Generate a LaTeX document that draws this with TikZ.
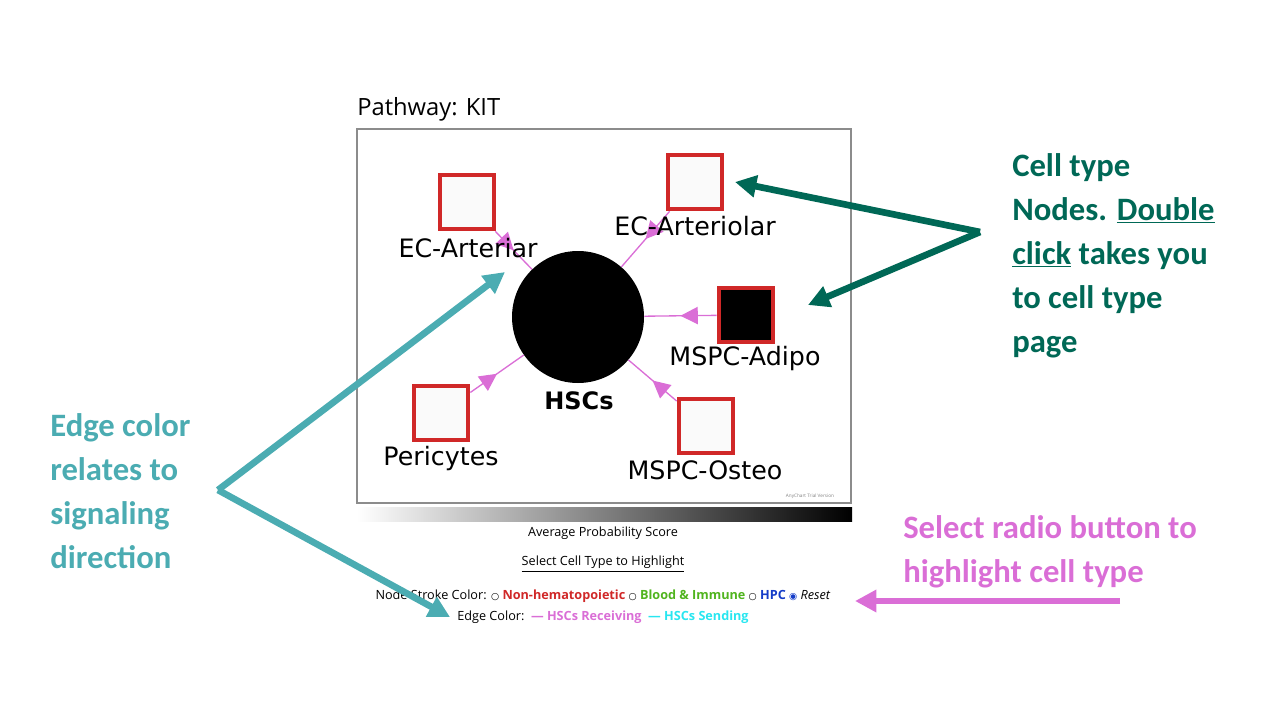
\documentclass[tikz,border=0pt]{standalone}
\usepackage{fontspec}
\setmainfont{Open Sans}
\newfontfamily\carlfont{Carlito}
\newfontfamily\djfont{DejaVu Sans}
\usetikzlibrary{arrows.meta,decorations.markings}
\definecolor{ngreen}{RGB}{0,104,86}
\definecolor{nteal}{RGB}{75,172,178}
\definecolor{npink}{RGB}{218,110,214}
\definecolor{nred}{RGB}{208,40,40}
\definecolor{edgep}{RGB}{218,110,214}
\definecolor{lgreen}{RGB}{80,180,30}
\definecolor{lblue}{RGB}{20,60,200}
\definecolor{lcyan}{RGB}{40,230,240}
\tikzset{
 cell/.style={draw=nred,line width=3pt,fill=black!2,minimum size=41pt,inner sep=0pt},
 lab/.style={font=\djfont\fontsize{19}{21}\selectfont,inner sep=0pt},
 edg/.style={draw=edgep,line width=1pt,decoration={markings,mark=at position 0.5 with {\arrow{Triangle[width=13pt,length=13pt]}}},postaction={decorate}},
 big/.style={line width=5pt,-{Triangle[width=16pt,length=16pt]}},
 ann/.style={font=\carlfont\bfseries\fontsize{24.5}{33}\selectfont,align=left,anchor=north west,inner sep=0pt},
 small/.style={font=\fontsize{9.5}{11}\selectfont,inner sep=0pt}
}
\begin{document}
\begin{tikzpicture}[x=0.75pt,y=-0.75pt]
\useasboundingbox (0,0) rectangle (1280,720);
\node[anchor=south west,font=\fontsize{17.8}{19}\selectfont,inner sep=0pt] (title) at (357,121) {Pathway: KIT};
\draw[black!45,line width=0.8pt] (357,129) rectangle (851,503);
\node[circle,fill=black,minimum size=99pt,inner sep=0] (h) at (578,317) {};
\node[cell] (a) at (467,202) {};
\node[cell] (b) at (695,182) {};
\node[cell,fill=black] (c) at (746,315) {};
\node[cell] (d) at (441,413) {};
\node[cell] (e) at (706,426) {};
\path[edg] (a) -- (h);
\path[edg] (b) -- (h);
\path[edg] (c) -- (h);
\path[edg] (d) -- (h);
\path[edg] (e) -- (h);
\node[lab] (la) at (468,248) {EC-Arteriar};
\node[lab] (lb) at (695,226) {EC-Arteriolar};
\node[lab] (lc) at (745,359) {MSPC-Adipo};
\node[lab,font=\djfont\bfseries\fontsize{18}{20}\selectfont] (lh) at (579,401) {HSCs};
\node[lab] (ld) at (441,459) {Pericytes};
\node[lab] (le) at (705,470) {MSPC-Osteo};
\node[font=\fontsize{3.5}{4}\selectfont,text=black!50,inner sep=0] (tr) at (810,496) {AnyChart Trial Version};
\shade[left color=white,right color=black] (357,507) rectangle (852,521);
\node[small] (aps) at (603,533) {Average Probability Score};
\node[small] (sel) at (603,564) {\underline{Select Cell Type to Highlight}};
\node[small] (leg) at (603,596) {Node Stroke Color: {\djfont\fontsize{7}{8}\selectfont○} \textbf{\textcolor{nred}{Non-hematopoietic}} {\djfont\fontsize{7}{8}\selectfont○} \textbf{\textcolor{lgreen}{Blood \& Immune}} {\djfont\fontsize{7}{8}\selectfont○} \textbf{\textcolor{lblue}{HPC}} \textcolor{lblue}{\djfont\fontsize{7}{8}\selectfont◉} \textit{Reset}};
\node[small] (edc) at (603,617) {Edge Color:\ \ \textbf{\textcolor{edgep}{— HSCs Receiving}}\ \ \textbf{\textcolor{lcyan}{— HSCs Sending}}};
\node[ann,text=ngreen] (g) at (1012,153) {Cell type\\Nodes. \underline{Double}\\\underline{click} takes you\\to cell type\\page};
\coordinate (gj) at (980,232);
\draw[big,ngreen] (gj) -- (735,182);
\draw[big,ngreen] (gj) -- (808,305);
\node[ann,text=nteal] (t) at (50,413) {Edge color\\relates to\\signaling\\direction};
\coordinate (tj) at (218,490);
\draw[big,nteal] (tj) -- (505,272);
\draw[big,nteal] (tj) -- (450,617);
\node[ann,text=npink] (p) at (903,515) {Select radio button to\\highlight cell type};
\coordinate (pj) at (1120,601);
\draw[big,npink] (pj) -- (855,601);
\end{tikzpicture}
\end{document}
